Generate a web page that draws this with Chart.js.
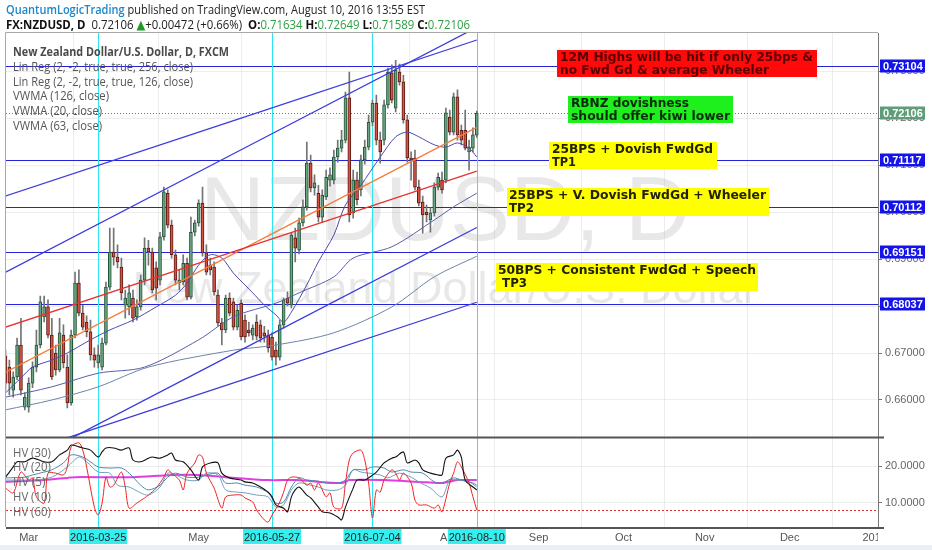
<!DOCTYPE html>
<html>
<head>
<meta charset="utf-8">
<script src="https://cdn.jsdelivr.net/npm/chart.js@4.4.1/dist/chart.umd.min.js"></script>
<style>
  html, body { margin: 0; padding: 0; background: #fff; }
  canvas { display: block; }
</style>
</head>
<body>
<canvas id="chart" width="932" height="550"></canvas>
<script>
// Daily bars, index 0 = 2016-02-22 (trading days only)
const opens = [
  0.6694, 0.6670, 0.6621, 0.6649, 0.6717, 0.6585, 0.6585, 0.6636, 0.6670, 0.6717,
  0.6777, 0.6798, 0.6738, 0.6700, 0.6664, 0.6738, 0.6670, 0.6594, 0.6738, 0.6849,
  0.6785, 0.6766, 0.6745, 0.6696, 0.6679, 0.6670, 0.6721, 0.6840, 0.6915, 0.6904,
  0.6883, 0.6802, 0.6798, 0.6817, 0.6777, 0.6798, 0.6855, 0.6923, 0.6915, 0.6881,
  0.6855, 0.6947, 0.7040, 0.6972, 0.6909, 0.6849, 0.6851, 0.6891, 0.6819, 0.6957,
  0.6977, 0.7019, 0.6913, 0.6887, 0.6883, 0.6823, 0.6764, 0.6749, 0.6817, 0.6809,
  0.6755, 0.6806, 0.6770, 0.6749, 0.6738, 0.6766, 0.6760, 0.6743, 0.6738, 0.6734,
  0.6706, 0.6691, 0.6760, 0.6817, 0.6802, 0.6945, 0.6919, 0.6977, 0.7011, 0.7104,
  0.7051, 0.7040, 0.6989, 0.7032, 0.7068, 0.7068, 0.7117, 0.7136, 0.7153, 0.7243,
  0.6998, 0.7068, 0.7047, 0.7111, 0.7138, 0.7191, 0.7232, 0.7153, 0.7153, 0.7228,
  0.7296, 0.7221, 0.7298, 0.7277, 0.7196, 0.7115, 0.7115, 0.7053, 0.7021, 0.7000,
  0.6983, 0.6998, 0.7053, 0.7068, 0.7068, 0.7202, 0.7170, 0.7245, 0.7174, 0.7174,
  0.7128, 0.7136, 0.71634
];
const highs = [
  0.6706, 0.6685, 0.6660, 0.6732, 0.6774, 0.6615, 0.6647, 0.6681, 0.6749, 0.6821,
  0.6821, 0.6813, 0.6774, 0.6717, 0.6774, 0.6760, 0.6696, 0.6749, 0.6872, 0.6877,
  0.6802, 0.6779, 0.6770, 0.6711, 0.6717, 0.6732, 0.6851, 0.6966, 0.6966, 0.6930,
  0.6902, 0.6834, 0.6845, 0.6834, 0.6813, 0.6866, 0.6945, 0.6940, 0.6923, 0.6894,
  0.6957, 0.7053, 0.7047, 0.6983, 0.6919, 0.6877, 0.6909, 0.6902, 0.6989, 0.6983,
  0.7026, 0.7053, 0.6930, 0.6902, 0.6894, 0.6834, 0.6774, 0.6823, 0.6828, 0.6817,
  0.6802, 0.6813, 0.6781, 0.6766, 0.6760, 0.6781, 0.6770, 0.6757, 0.6749, 0.6743,
  0.6723, 0.6770, 0.6817, 0.6830, 0.6957, 0.6966, 0.6987, 0.7026, 0.7149, 0.7121,
  0.7079, 0.7057, 0.7047, 0.7089, 0.7094, 0.7132, 0.7153, 0.7174, 0.7255, 0.7298,
  0.7089, 0.7085, 0.7121, 0.7153, 0.7206, 0.7238, 0.7249, 0.7170, 0.7238, 0.7306,
  0.7313, 0.7323, 0.7315, 0.7291, 0.7206, 0.7128, 0.7132, 0.7068, 0.7034, 0.7015,
  0.7009, 0.7062, 0.7083, 0.7085, 0.7221, 0.7217, 0.7253, 0.7260, 0.7185, 0.7217,
  0.7153, 0.7179, 0.7215
];
const lows = [
  0.6621, 0.6611, 0.6606, 0.6643, 0.6611, 0.6579, 0.6574, 0.6626, 0.6660, 0.6711,
  0.6766, 0.6732, 0.6643, 0.6653, 0.6660, 0.6668, 0.6583, 0.6589, 0.6732, 0.6779,
  0.6749, 0.6734, 0.6685, 0.6670, 0.6668, 0.6664, 0.6717, 0.6834, 0.6887, 0.6881,
  0.6813, 0.6774, 0.6781, 0.6766, 0.6770, 0.6791, 0.6845, 0.6887, 0.6828, 0.6813,
  0.6845, 0.6940, 0.6966, 0.6902, 0.6845, 0.6834, 0.6845, 0.6813, 0.6815, 0.6949,
  0.6970, 0.6906, 0.6866, 0.6866, 0.6823, 0.6757, 0.6717, 0.6743, 0.6779, 0.6749,
  0.6749, 0.6728, 0.6723, 0.6736, 0.6728, 0.6728, 0.6723, 0.6723, 0.6702, 0.6685,
  0.6674, 0.6685, 0.6753, 0.6800, 0.6796, 0.6894, 0.6911, 0.6970, 0.7004, 0.7043,
  0.7036, 0.6979, 0.6979, 0.7026, 0.7055, 0.7060, 0.7106, 0.7128, 0.7147, 0.6979,
  0.6987, 0.7015, 0.7034, 0.7102, 0.7132, 0.7183, 0.7143, 0.7104, 0.7143, 0.7221,
  0.7232, 0.7213, 0.7270, 0.7189, 0.7106, 0.7068, 0.7047, 0.7013, 0.6955, 0.6979,
  0.6957, 0.6991, 0.7047, 0.7040, 0.7062, 0.7164, 0.7164, 0.7153, 0.7143, 0.7132,
  0.7089, 0.7128, 0.71589
];
const closes = [
  0.6636, 0.6636, 0.6649, 0.6717, 0.6621, 0.6606, 0.6636, 0.6670, 0.6717, 0.6809,
  0.6798, 0.6738, 0.6649, 0.6664, 0.6743, 0.6679, 0.6594, 0.6738, 0.6849, 0.6785,
  0.6755, 0.6745, 0.6696, 0.6685, 0.6696, 0.6721, 0.6840, 0.6915, 0.6904, 0.6894,
  0.6828, 0.6817, 0.6828, 0.6774, 0.6798, 0.6855, 0.6923, 0.6915, 0.6834, 0.6838,
  0.6947, 0.7043, 0.6972, 0.6909, 0.6855, 0.6855, 0.6891, 0.6819, 0.6957, 0.6977,
  0.7019, 0.6913, 0.6872, 0.6877, 0.6830, 0.6764, 0.6749, 0.6817, 0.6785, 0.6755,
  0.6791, 0.6734, 0.6734, 0.6743, 0.6753, 0.6736, 0.6732, 0.6736, 0.6711, 0.6691,
  0.6691, 0.6760, 0.6813, 0.6806, 0.6951, 0.6923, 0.6977, 0.7011, 0.7104, 0.7051,
  0.7062, 0.6989, 0.7036, 0.7074, 0.7079, 0.7117, 0.7136, 0.7153, 0.7243, 0.6994,
  0.7068, 0.7026, 0.7111, 0.7138, 0.7191, 0.7232, 0.7153, 0.7128, 0.7228, 0.7298,
  0.7238, 0.7302, 0.7277, 0.7196, 0.7115, 0.7111, 0.7053, 0.7019, 0.6994, 0.6994,
  0.6998, 0.7053, 0.7074, 0.7047, 0.7211, 0.7170, 0.7245, 0.7164, 0.7153, 0.7136,
  0.7138, 0.7164, 0.72106
];

// Indicators: [bar index, value]
const vwma20 = [[0,0.6615],[4,0.6647],[7,0.6670],[12,0.6685],[16,0.6700],[22,0.6728],[27,0.6749],[33,0.6770],
  [39,0.6798],[44,0.6823],[47,0.6849],[50,0.6887],[53,0.6909],[56,0.6902],[59,0.6870],[64,0.6828],[67,0.6802],
  [70,0.6781],[72,0.6766],[74,0.6787],[78,0.6845],[81,0.6894],[85,0.6951],[88,0.7015],[92,0.7057],[97,0.7117],
  [101,0.7160],[104,0.7170],[107,0.7160],[111,0.7143],[114,0.7138],[117,0.7147],[120,0.7136],[122,0.7117]];
const vwma63 = [[0,0.6606],[12,0.6628],[24,0.6657],[36,0.6670],[50,0.6728],[59,0.6777],[70,0.6806],[76,0.6828],
  [85,0.6862],[90,0.6902],[100,0.6926],[111,0.6983],[116,0.7011],[122,0.7040]];
const vwma126 = [[0,0.6579],[12,0.6600],[24,0.6628],[37,0.6670],[59,0.6706],[70,0.6717],[85,0.6743],
  [100,0.6798],[111,0.6862],[122,0.6906]];

// Linear regression channels (start, end)
const linReg256Mid = [[0,0.6755],[122,0.7087]];
const linReg256Up = [[0,0.7034],[122,0.7366]];
const linReg256Low = [[0,0.6476],[122,0.6808]];
const linReg126Mid = [[0,0.6659],[122,0.7180]];
const linReg126Up = [[0,0.6872],[122,0.7393]];
const linReg126Low = [[0,0.6446],[122,0.6967]];

// Historical volatility panel
const hv5 = [[0,14.0],[2,12.7],[4,18.4],[6,16.2],[7,16.8],[8,11.6],[10,9.9],[11,18.1],[13,18.1],[15,17.6],[16,19.8],
  [17,25.3],[19,26.4],[20,24.4],[21,19.8],[23,8.8],[24,6.6],[25,9.9],[26,17.0],[27,14.3],[28,14.8],[30,18.4],[31,14.3],
  [32,8.5],[34,9.9],[36,11.3],[37,12.1],[39,14.0],[41,17.0],[42,19.0],[43,18.1],[45,16.2],[46,13.5],[47,18.1],[49,20.9],
  [50,23.1],[51,22.5],[52,18.1],[54,14.0],[56,8.5],[57,11.6],[59,12.1],[61,12.1],[62,11.3],[64,10.2],[65,8.0],[67,5.3],
  [68,4.7],[69,6.6],[71,10.2],[72,12.9],[73,16.2],[74,17.0],[76,16.8],[78,14.8],[79,15.4],[80,13.5],[81,15.4],[83,11.6],
  [84,12.7],[85,8.8],[87,8.5],[88,15.4],[89,21.7],[90,23.6],[92,24.4],[93,21.7],[94,15.4],[95,5.8],[96,13.5],[97,12.9],
  [98,16.2],[100,19.0],[101,18.1],[102,16.2],[103,18.1],[105,15.4],[106,10.7],[107,9.4],[109,9.4],[111,8.5],[112,9.4],
  [113,7.5],[115,15.4],[116,18.1],[117,21.2],[118,19.8],[120,15.4],[121,11.6],[122,8.0]];
const hv10 = [[0,17.0],[2,19.8],[3,21.2],[5,21.2],[7,22.2],[10,21.2],[12,21.2],[14,23.1],[16,24.4],[17,25.8],[19,25.3],
  [20,25.0],[22,24.4],[24,22.5],[25,23.9],[26,25.0],[28,25.0],[30,24.4],[32,25.0],[33,21.7],[35,21.2],[37,22.2],[38,22.5],
  [40,22.2],[42,23.1],[43,23.6],[44,21.7],[46,21.2],[48,19.0],[50,16.2],[51,19.8],[53,20.9],[55,20.9],[56,18.1],[58,16.8],
  [61,16.2],[62,15.7],[64,15.4],[66,14.3],[68,12.9],[69,11.6],[70,9.4],[72,8.5],[73,7.5],[74,11.6],[75,13.5],[76,14.3],
  [78,12.1],[79,11.3],[81,8.8],[82,7.5],[84,7.2],[86,6.1],[87,5.3],[88,8.8],[90,14.0],[91,16.2],[93,16.2],[94,16.8],
  [96,18.4],[98,20.9],[100,22.2],[101,22.5],[103,23.9],[104,20.9],[106,21.7],[107,20.9],[108,19.0],[110,18.1],[112,17.6],
  [113,17.6],[114,22.2],[116,23.1],[117,24.4],[118,22.5],[119,16.2],[121,14.3],[122,13.5]];
const hv20 = [[0,16.8],[5,17.0],[7,17.6],[10,18.4],[12,19.0],[15,20.9],[17,23.1],[20,22.5],[22,21.2],[24,19.8],[27,19.5],
  [30,19.5],[32,18.1],[35,14.8],[37,13.5],[40,14.8],[42,17.0],[44,18.1],[47,17.0],[50,17.0],[52,17.6],[55,18.1],[57,15.4],
  [60,15.4],[62,14.8],[65,14.3],[68,12.7],[70,9.9],[72,10.2],[74,14.3],[76,16.8],[78,16.2],[81,15.9],[83,15.4],[86,15.4],
  [88,16.2],[90,19.0],[93,19.0],[95,19.8],[98,19.5],[100,18.4],[103,19.0],[105,18.4],[108,18.1],[111,15.7],[113,15.4],
  [116,16.8],[118,16.2],[121,15.4],[122,14.8]];
const hv30 = [[0,16.2],[4,16.2],[7,16.2],[12,17.0],[16,19.8],[19,22.5],[21,21.2],[24,18.4],[27,18.1],[29,14.8],[32,14.3],
  [35,12.7],[37,12.1],[40,14.3],[42,18.1],[44,17.6],[47,16.2],[50,16.2],[52,18.1],[55,17.6],[57,13.5],[60,12.9],[62,12.7],
  [65,12.1],[68,11.6],[70,8.8],[72,9.4],[74,13.5],[76,15.4],[79,14.8],[81,14.3],[83,13.5],[86,13.5],[88,14.8],[90,19.0],
  [92,18.4],[94,18.1],[97,17.6],[99,16.8],[102,18.1],[105,17.0],[107,15.7],[110,14.0],[113,11.6],[115,16.2],[117,16.2],
  [120,15.7],[122,14.3]];
const hv60 = [[0,15.7],[10,16.2],[16,16.8],[18,17.0],[33,17.0],[43,17.6],[50,17.6],[57,17.0],[68,16.2],[75,16.2],
  [87,15.4],[89,16.2],[98,16.2],[107,15.7],[113,15.4],[117,16.2],[122,16.2]];
const hvLevel = 8.0;

// Levels, marked dates, axis labels
const levels = [0.73104, 0.71117, 0.70112, 0.69151, 0.68037];
const lastPrice = 0.72106;
const priceTicks = [0.66, 0.67, 0.68, 0.69, 0.70, 0.71, 0.72, 0.73];
const hvTicks = [10, 20];
const markIdx = [24, 69, 95, 122];
const markDates = ['2016-03-25', '2016-05-27', '2016-07-04', '2016-08-10'];
const monthIdx = [6, 29, 50, 72, 94, 115, 138, 160, 181, 203, 225];
const monthLabels = ['Mar', 'Apr', 'May', 'Jun', 'Jul', 'Aug', 'Sep', 'Oct', 'Nov', 'Dec', '2017'];

const toPoints = (arr) => arr.map(([i, v]) => ({ x: i, y: v }));
const isUp = (i) => closes[i] >= opens[i];

/**
 * Draws a row of text spans squeezed to a given width
 */
function drawSpans(ctx, spans, x, y, width) {
  let total = 0;
  spans.forEach((s) => { ctx.font = s.font; total += ctx.measureText(s.text).width; });
  const k = width ? width / total : 1;
  ctx.save();
  ctx.translate(x, y);
  ctx.scale(k, 1);
  let cx = 0;
  spans.forEach((s) => {
    ctx.font = s.font;
    ctx.fillStyle = s.color;
    ctx.fillText(s.text, cx, 0);
    cx += ctx.measureText(s.text).width;
  });
  ctx.restore();
}

// Keep each dataset inside its own pane
const paneClip = {
  id: 'paneClip',
  beforeDatasetDraw(chart, args) {
    const { ctx, chartArea } = chart;
    const ys = args.meta.yScale;
    ctx.save();
    ctx.beginPath();
    ctx.rect(chartArea.left, ys.top, chartArea.right - chartArea.left, ys.bottom - ys.top);
    ctx.clip();
  },
  afterDatasetDraw(chart) {
    chart.ctx.restore();
  },
};

const overlay = {
  id: 'overlay',
  beforeDatasetsDraw(chart) {
    const { ctx, chartArea: a, scales: { x, y, y2 } } = chart;
    ctx.save();
    ctx.beginPath();
    ctx.rect(a.left, a.top, a.right - a.left, y.bottom - a.top);
    ctx.clip();
    // watermark
    ctx.fillStyle = 'rgba(140,140,140,0.2)';
    ctx.textAlign = 'center';
    ctx.textBaseline = 'alphabetic';
    ctx.font = '90px "Liberation Sans"';
    ctx.fillText('NZDUSD, D', 445, 240);
    ctx.font = '45px "Liberation Sans"';
    ctx.fillText('New Zealand Dollar/U.S. Dollar', 445, 303);
    ctx.restore();

    ctx.save();
    // horizontal levels
    ctx.strokeStyle = '#2323d8';
    ctx.lineWidth = 1.2;
    levels.forEach((lv) => {
      const py = Math.round(y.getPixelForValue(lv)) + 0.5;
      ctx.beginPath(); ctx.moveTo(a.left, py); ctx.lineTo(a.right, py); ctx.stroke();
    });
    // last price
    ctx.strokeStyle = '#3f9468';
    ctx.lineWidth = 1;
    ctx.setLineDash([1, 2]);
    let py = Math.round(y.getPixelForValue(lastPrice)) + 0.5;
    ctx.beginPath(); ctx.moveTo(a.left, py); ctx.lineTo(a.right, py); ctx.stroke();
    // HV level
    ctx.strokeStyle = '#e03535';
    ctx.setLineDash([2, 2]);
    py = Math.round(y2.getPixelForValue(hvLevel)) + 0.5;
    ctx.beginPath(); ctx.moveTo(a.left, py); ctx.lineTo(a.right, py); ctx.stroke();
    ctx.setLineDash([]);
    // marked dates
    ctx.strokeStyle = '#2ee6f2';
    markIdx.forEach((m) => {
      const px = Math.round(x.getPixelForValue(m)) + 0.5;
      ctx.beginPath(); ctx.moveTo(px, a.top); ctx.lineTo(px, a.bottom); ctx.stroke();
    });
    ctx.restore();
  },
  afterDraw(chart) {
    const { ctx, chartArea: a, scales: { x, y } } = chart;
    ctx.save();
    ctx.textBaseline = 'alphabetic';
    ctx.textAlign = 'left';

    // frame
    ctx.strokeStyle = '#a8a8a8';
    ctx.lineWidth = 1;
    ctx.beginPath();
    ctx.moveTo(a.left - 0.5, a.bottom); ctx.lineTo(a.left - 0.5, a.top - 0.5); ctx.lineTo(a.right, a.top - 0.5);
    ctx.stroke();
    ctx.strokeStyle = '#555';
    ctx.lineWidth = 2;
    ctx.beginPath(); ctx.moveTo(a.left, y.bottom); ctx.lineTo(a.right + 6, y.bottom); ctx.stroke();
    ctx.beginPath(); ctx.moveTo(a.left, a.bottom + 1); ctx.lineTo(a.right + 6, a.bottom + 1); ctx.stroke();

    // pane legends
    drawSpans(ctx, [{ text: 'New Zealand Dollar/U.S. Dollar, D, FXCM', font: 'bold 12px "Open Sans"', color: '#4a4a4a' }], 13, 56, 216);
    const legend = [
      ['Lin Reg (2, -2, true, true, 256, close)', 180, 71],
      ['Lin Reg (2, -2, true, true, 126, close)', 180, 86],
      ['VWMA (126, close)', 96, 100],
      ['VWMA (20, close)', 89, 115],
      ['VWMA (63, close)', 89, 130],
    ];
    legend.forEach(([t, w, by]) => drawSpans(ctx, [{ text: t, font: '12px "Open Sans"', color: '#555' }], 13, by, w));
    const hvLegend = [['HV (30)', 457], ['HV (20)', 471], ['HV (5)', 486], ['HV (10)', 501], ['HV (60)', 516]];
    hvLegend.forEach(([t, by]) => drawSpans(ctx, [{ text: t, font: '12px "Open Sans"', color: '#666' }], 13, by, t.length * 5.4));

    // notes
    const notes = [
      { box: [557, 50, 260, 27], fill: '#ff0a0a', color: '#5a0000', tx: 560,
        lines: [['12M Highs will be hit if only 25bps &', 253], ['no Fwd Gd & average Wheeler', 209]] },
      { box: [568, 96, 165, 27], fill: '#1ef01e', color: '#0c2a0c', tx: 571,
        lines: [['RBNZ dovishness', 118], ['should offer kiwi lower', 159]] },
      { box: [549, 142, 168, 27], fill: '#ffff00', color: '#222200', tx: 552,
        lines: [['25BPS + Dovish FwdGd', 161], ['TP1', 24]] },
      { box: [507, 188, 262, 28], fill: '#ffff00', color: '#222200', tx: 509,
        lines: [['25BPS + V. Dovish FwdGd + Wheeler', 257], ['TP2', 25]] },
      { box: [496, 263, 262, 28], fill: '#ffff00', color: '#222200', tx: 498,
        lines: [['50BPS + Consistent FwdGd + Speech', 258], [' TP3', 29]] },
    ];
    notes.forEach((n) => {
      ctx.fillStyle = n.fill;
      ctx.fillRect(n.box[0], n.box[1], n.box[2], n.box[3]);
      n.lines.forEach(([t, w], k) => {
        drawSpans(ctx, [{ text: t, font: 'bold 12px "DejaVu Sans"', color: n.color }], n.tx, n.box[1] + 11 + k * 12.5, w);
      });
    });

    // price labels on the axis
    ctx.font = 'bold 11px "Liberation Sans"';
    const tag = (val, bg) => {
      const py = y.getPixelForValue(val);
      ctx.fillStyle = bg;
      ctx.fillRect(a.right + 2, Math.round(py) - 6.5, 45, 13);
      ctx.fillStyle = '#fff';
      ctx.fillText(val.toFixed(5), a.right + 5, Math.round(py) + 4);
    };
    levels.forEach((lv) => tag(lv, '#1414ea'));
    tag(lastPrice, '#5f9d78');

    // time axis
    ctx.fillStyle = '#eceff3';
    ctx.fillRect(0, 545, 932, 5);
    ctx.font = '11px "Liberation Sans"';
    ctx.textAlign = 'center';
    ctx.fillStyle = '#555';
    ctx.save();
    ctx.beginPath(); ctx.rect(0, a.bottom + 2, a.right, 20); ctx.clip();
    monthIdx.forEach((m, k) => ctx.fillText(monthLabels[k], x.getPixelForValue(m), 541));
    ctx.restore();
    markIdx.forEach((m, k) => {
      const px = x.getPixelForValue(m);
      ctx.fillStyle = '#33f0f0';
      ctx.fillRect(px - 29, a.bottom + 2, 58, 15);
      ctx.fillStyle = '#222';
      ctx.fillText(markDates[k], px, 541);
    });

    // header
    ctx.textAlign = 'left';
    drawSpans(ctx, [
      { text: 'QuantumLogicTrading', font: '600 13px "Open Sans"', color: '#1b88c9' },
      { text: ' published on TradingView.com, August 10, 2016 13:55 EST', font: '13px "Open Sans"', color: '#222' },
    ], 6, 14, 419);
    const g = '#2ea043';
    drawSpans(ctx, [
      { text: 'FX:NZDUSD, D', font: 'bold 13px "Open Sans"', color: '#111' },
      { text: '  0.72106 ', font: '13px "Open Sans"', color: '#222' },
      { text: '\u25B2', font: '13px "DejaVu Sans"', color: '#1f9a2a' },
      { text: '+0.00472 (+0.66%)  ', font: '13px "Open Sans"', color: '#222' },
      { text: 'O:', font: 'bold 13px "Open Sans"', color: '#111' },
      { text: '0.71634', font: '13px "Open Sans"', color: g },
      { text: ' H:', font: 'bold 13px "Open Sans"', color: '#111' },
      { text: '0.72649', font: '13px "Open Sans"', color: g },
      { text: ' L:', font: 'bold 13px "Open Sans"', color: '#111' },
      { text: '0.71589', font: '13px "Open Sans"', color: g },
      { text: ' C:', font: 'bold 13px "Open Sans"', color: '#111' },
      { text: '0.72106', font: '13px "Open Sans"', color: g },
    ], 6, 29, 464);
    ctx.restore();
  },
};

const thinLine = (data, color, axis, width, order) => ({
  type: 'line',
  data: toPoints(data),
  yAxisID: axis,
  borderColor: color,
  borderWidth: width,
  pointRadius: 0,
  tension: 0.3,
  fill: false,
  order,
});

const tickFont = { family: 'Liberation Sans', size: 11 };

new Chart(document.getElementById('chart').getContext('2d'), {
  type: 'bar',
  data: {
    datasets: [
      {
        type: 'bar',
        data: closes.map((c, i) => ({ x: i, y: [lows[i], highs[i]] })),
        yAxisID: 'y',
        backgroundColor: '#737375',
        barThickness: 1,
        grouped: false,
        order: 20,
      },
      {
        type: 'bar',
        data: closes.map((c, i) => ({ x: i, y: [opens[i], c] })),
        yAxisID: 'y',
        backgroundColor: closes.map((c, i) => (isUp(i) ? '#6ba583' : '#d75442')),
        borderColor: closes.map((c, i) => (isUp(i) ? '#225437' : '#5b1a13')),
        borderWidth: 1,
        borderSkipped: false,
        barThickness: 3,
        minBarLength: 1,
        grouped: false,
        order: 19,
      },
      thinLine(vwma126, '#6d84a8', 'y', 1, 10),
      thinLine(vwma63, '#585fa8', 'y', 1, 10),
      thinLine(vwma20, '#4b4bb0', 'y', 1, 9),
      thinLine(linReg256Up, '#3c3cdc', 'y', 1.3, 8),
      thinLine(linReg256Low, '#3c3cdc', 'y', 1.3, 8),
      thinLine(linReg126Up, '#3c3cdc', 'y', 1.3, 8),
      thinLine(linReg126Low, '#3c3cdc', 'y', 1.3, 8),
      thinLine(linReg256Mid, '#e8322c', 'y', 1.3, 7),
      thinLine(linReg126Mid, '#f77c3c', 'y', 1.3, 7),
      thinLine(hv60, '#e03ee0', 'y2', 2, 6),
      thinLine(hv20, '#4f86ad', 'y2', 1, 5),
      thinLine(hv30, '#6fa2c2', 'y2', 1, 5),
      thinLine(hv5, '#ee2424', 'y2', 1, 4),
      thinLine(hv10, '#111111', 'y2', 1.1, 3),
    ],
  },
  options: {
    responsive: false,
    animation: false,
    events: [],
    layout: { padding: { left: 6, top: 33, right: 0, bottom: 0 } },
    plugins: { legend: { display: false }, tooltip: { enabled: false } },
    scales: {
      x: {
        type: 'linear',
        min: 0.13,
        max: 225.86,
        offset: false,
        border: { display: false },
        grid: { color: 'rgba(0,0,0,0.07)', drawTicks: false },
        ticks: { display: false },
        afterBuildTicks: (s) => { s.ticks = monthIdx.map((v) => ({ value: v })); },
        afterFit: (s) => { s.height = 23; },
      },
      y: {
        position: 'right',
        stack: 'panes',
        stackWeight: 404.5,
        min: 0.65202,
        max: 0.73809,
        border: { color: '#777' },
        grid: { color: 'rgba(0,0,0,0.07)', tickLength: 4, tickColor: '#777' },
        ticks: { font: tickFont, color: '#666', padding: 3, callback: (v) => Number(v).toFixed(5) },
        afterBuildTicks: (s) => { s.ticks = priceTicks.map((v) => ({ value: v })); },
        afterFit: (s) => { s.width = 54; },
      },
      y2: {
        position: 'right',
        stack: 'panes',
        stackWeight: 89.5,
        min: 3.35,
        max: 27.86,
        border: { color: '#777' },
        grid: { color: 'rgba(0,0,0,0.07)', tickLength: 4, tickColor: '#777' },
        ticks: { font: tickFont, color: '#666', padding: 3, callback: (v) => Number(v).toFixed(4) },
        afterBuildTicks: (s) => { s.ticks = hvTicks.map((v) => ({ value: v })); },
        afterFit: (s) => { s.width = 54; },
      },
    },
  },
  plugins: [paneClip, overlay],
});
</script>
</body>
</html>
